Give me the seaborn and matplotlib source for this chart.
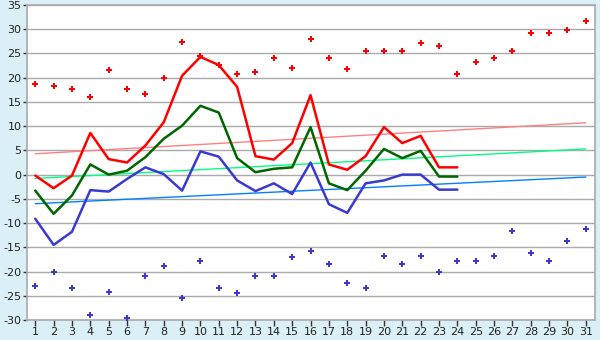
import matplotlib
matplotlib.use("Agg")
import matplotlib.pyplot as plt
import seaborn as sns
import pandas as pd

days = list(range(1, 32))
obs_days = list(range(1, 25))

max_temp = [-0.2, -2.8, -0.2, 8.6, 3.2, 2.5, 6.0, 10.8, 20.4, 24.3,
            22.6, 18.1, 3.8, 3.1, 6.5, 16.4, 2.1, 1.0, 3.8, 9.8,
            6.5, 8.0, 1.5, 1.5]
mean_temp = [-3.3, -8.1, -4.3, 2.1, 0.0, 0.8, 3.6, 7.4, 10.1, 14.2,
             12.8, 3.4, 0.5, 1.2, 1.5, 9.8, -1.8, -3.2, 0.8, 5.3,
             3.4, 4.9, -0.4, -0.4]
min_temp = [-9.1, -14.5, -11.8, -3.2, -3.5, -0.9, 1.5, 0.1, -3.3, 4.8,
            3.7, -1.2, -3.4, -1.8, -4.0, 2.5, -6.1, -7.9, -1.8, -1.2,
            0.0, 0.0, -3.1, -3.1]

record_max = [18.8, 18.3, 17.7, 16.0, 21.6, 17.7, 16.7, 20.0, 27.3, 24.5,
              22.7, 20.7, 21.1, 24.0, 22.1, 27.9, 24.0, 21.7, 25.5, 25.5,
              25.5, 27.2, 26.6, 20.7, 23.3, 24.0, 25.5, 29.3, 29.3, 29.9,
              31.7]
record_min = [-23.0, -20.1, -23.4, -28.9, -24.3, -29.5, -21.0, -18.9, -25.5, -17.8,
              -23.4, -24.4, -21.0, -21.0, -17.1, -15.7, -18.4, -22.3, -23.4, -16.8,
              -18.4, -16.8, -20.1, -17.8, -17.8, -16.8, -11.7, -16.1, -17.8, -13.8,
              -11.2]

trend_days = [1, 31]
normal_max = [4.3, 10.7]
normal_mean = [-0.8, 5.3]
normal_min = [-6.0, -0.5]

yticks = list(range(-30, 40, 5))

bg = "#daeff6"
sns.set_theme(style="white")
plt.rcParams['font.family'] = ['DejaVu Sans']

fig = plt.figure(figsize=(6, 3.4), dpi=100, facecolor=bg)
ax = fig.add_axes([27/600, 1-320/340, 568/600, 315/340])
ax.set_facecolor("white")

obs = pd.DataFrame({"day": obs_days, "max": max_temp, "mean": mean_temp, "min": min_temp})
rec = pd.DataFrame({"day": days, "rmax": record_max, "rmin": record_min})
trend = pd.DataFrame({"day": trend_days, "nmax": normal_max, "nmean": normal_mean, "nmin": normal_min})

sns.lineplot(data=trend, x="day", y="nmax", ax=ax, color="#ff8080", lw=1.0)
sns.lineplot(data=trend, x="day", y="nmean", ax=ax, color="#00ff80", lw=1.0)
sns.lineplot(data=trend, x="day", y="nmin", ax=ax, color="#0080ff", lw=1.0)

sns.lineplot(data=obs, x="day", y="max", ax=ax, color="#ff0000", lw=1.8)
sns.lineplot(data=obs, x="day", y="mean", ax=ax, color="#006600", lw=1.8)
sns.lineplot(data=obs, x="day", y="min", ax=ax, color="#3a3ad0", lw=1.8)

sns.scatterplot(data=rec, x="day", y="rmax", ax=ax, color="#ff0000", marker="P", s=20, linewidth=0, zorder=5)
sns.scatterplot(data=rec, x="day", y="rmin", ax=ax, color="#3a3ad0", marker="P", s=20, linewidth=0, zorder=5)

ax.set_xlim(0.55, 31.5)
ax.set_ylim(-30, 35)
ax.set_xticks(days)
ax.set_xticklabels([str(d) for d in days])
ax.set_yticks(yticks)
ax.set_yticklabels([str(v) for v in yticks])
ax.yaxis.grid(True, color="#aaaaaa", lw=1)
ax.set_axisbelow(True)
ax.set_xlabel("")
ax.set_ylabel("")
for s in ax.spines.values():
    s.set_color("#aaaaaa")
    s.set_linewidth(1.2)
ax.tick_params(axis="x", length=4, width=1, color="#333333", labelsize=8, pad=1, bottom=True)
ax.tick_params(axis="y", length=3, width=1, color="#333333", labelsize=8, pad=1, left=True)
for lbl in ax.get_xticklabels() + ax.get_yticklabels():
    lbl.set_color("#222222")

fig.savefig("out.png", dpi=100, facecolor=bg)
